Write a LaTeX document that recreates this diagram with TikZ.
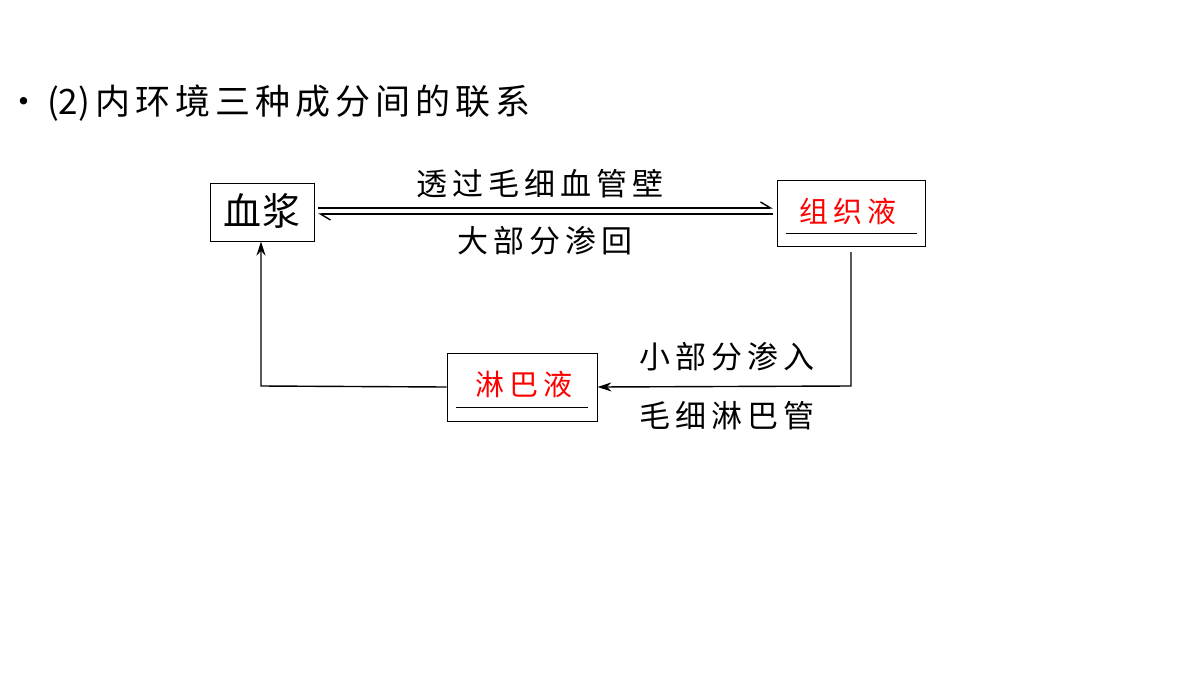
\documentclass[tikz,border=0pt]{standalone}
\usepackage{fontspec}
\newfontfamily\cjk{Noto Sans CJK SC}
\usetikzlibrary{arrows.meta}
\newcommand\lsk{\kern5pt}
\begin{document}
\begin{tikzpicture}[x=1pt,y=-1pt,
  box/.style={draw,line width=1pt,inner sep=0pt},
  lbl/.style={font=\cjk\fontsize{31}{34}\selectfont,inner sep=0pt},
  ln/.style={line width=1.4pt}]
\useasboundingbox (0,0) rectangle (1200,675);
\node[anchor=west,inner sep=0pt,font=\cjk\fontsize{35}{38}\selectfont] (title) at (6,103) {•\,(2)\,内\lsk 环\lsk 境\lsk 三\lsk 种\lsk 成\lsk 分\lsk 间\lsk 的\lsk 联\lsk 系};
\node[box,minimum width=104pt,minimum height=58pt] (xj) at (262,212) {};
\node[lbl,font=\cjk\fontsize{38}{40}\selectfont] (xjt) at (262,211) {血\kern2pt 浆};
\node[box,minimum width=148pt,minimum height=66pt] (zz) at (851,213) {};
\node[lbl,text=red,font=\cjk\fontsize{29}{32}\selectfont] (zzt) at (848,211) {组\,织\,液};
\draw[line width=1pt] (786,233) coordinate (zu1) -- (917,233) coordinate (zu2);
\node[box,minimum width=150pt,minimum height=68pt] (lb) at (522,387) {};
\node[lbl,text=red,font=\cjk\fontsize{29}{32}\selectfont] (lbt) at (524,384) {淋\,巴\,液};
\draw[line width=1pt] (456,407) coordinate (lu1) -- (588,407) coordinate (lu2);
\coordinate (a1) at (318,208); \coordinate (a2) at (773,208);
\coordinate (b1) at (318,214); \coordinate (b2) at (773,214);
\draw[ln,-{Straight Barb[left,length=10pt,width=12pt]}] (a1) -- (a2);
\draw[ln,-{Straight Barb[left,length=10pt,width=12pt]}] (b2) -- (b1);
\node[lbl] (t1) at (540,184) {透\lsk 过\lsk 毛\lsk 细\lsk 血\lsk 管\lsk 壁};
\node[lbl] (t2) at (545,241) {大\lsk 部\lsk 分\lsk 渗\lsk 回};
\coordinate (c1) at (851,252); \coordinate (c2) at (851,386);
\draw[ln,-{Stealth[length=14pt,width=9pt]}] (c1) -- (c2) -- (lb.east);
\coordinate (d1) at (261,386);
\draw[ln,-{Stealth[length=14pt,width=9pt]}] (lb.west) -- (d1) -- (xj.south -| d1);
\node[lbl] (t3) at (727,357) {小\lsk 部\lsk 分\lsk 渗\lsk 入};
\node[lbl] (t4) at (727,416) {毛\lsk 细\lsk 淋\lsk 巴\lsk 管};
\end{tikzpicture}
\end{document}
